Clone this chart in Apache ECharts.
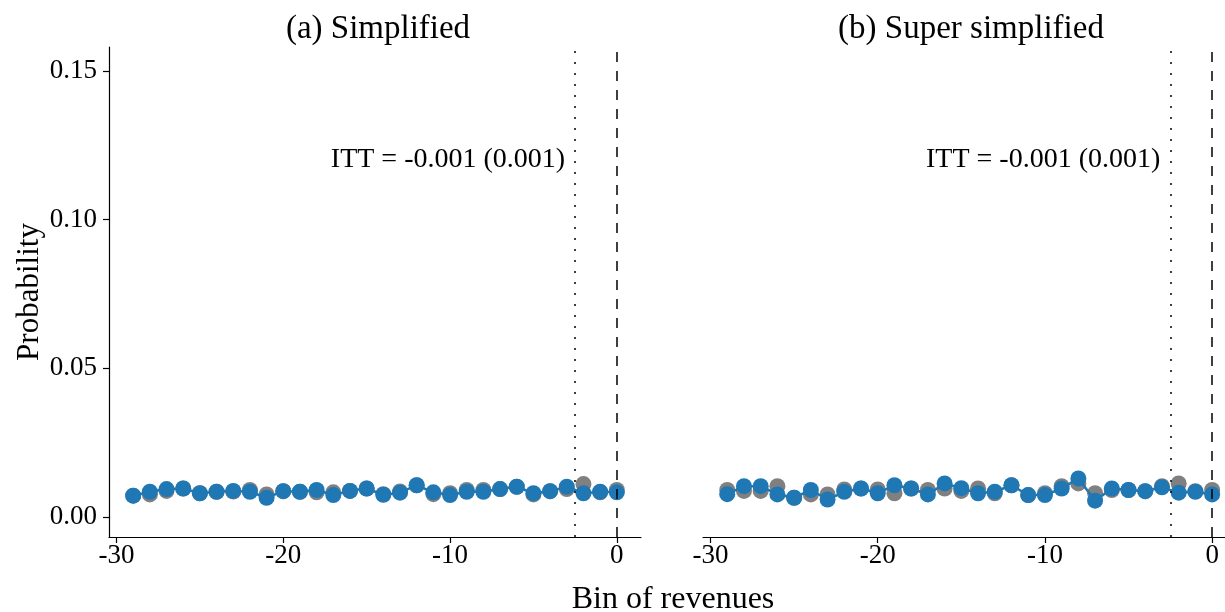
<!DOCTYPE html>
<html>
<head>
<meta charset="utf-8">
<script src="https://cdn.jsdelivr.net/npm/echarts@6/dist/echarts.min.js"></script>
<style>html,body{margin:0;padding:0;background:#fff}#c{width:1225px;height:612px}</style>
</head>
<body>
<div id="c"></div>
<script>
const bins = [-29,-28,-27,-26,-25,-24,-23,-22,-21,-20,-19,-18,-17,-16,-15,-14,-13,-12,-11,-10,-9,-8,-7,-6,-5,-4,-3,-2,-1,0];
// Panel (a) Simplified
const aGray = [0.0072,0.0076,0.0088,0.0096,0.0080,0.0085,0.0086,0.0091,0.0076,0.0087,0.0085,0.0083,0.0083,0.0088,0.0096,0.0077,0.0086,0.0107,0.0077,0.0080,0.0091,0.0091,0.0094,0.0102,0.0076,0.0087,0.0094,0.0111,0.0083,0.0091];
const aBlue = [0.0072,0.0085,0.0094,0.0096,0.0080,0.0085,0.0088,0.0085,0.0065,0.0087,0.0085,0.0091,0.0074,0.0088,0.0096,0.0075,0.0082,0.0107,0.0083,0.0074,0.0085,0.0085,0.0094,0.0102,0.0080,0.0087,0.0102,0.0080,0.0085,0.0083];
// Panel (b) Super simplified
const bGray = [0.0091,0.0088,0.0088,0.0104,0.0065,0.0076,0.0076,0.0093,0.0096,0.0093,0.0080,0.0096,0.0091,0.0096,0.0088,0.0096,0.0080,0.0107,0.0074,0.0080,0.0104,0.0113,0.0080,0.0091,0.0091,0.0087,0.0104,0.0113,0.0087,0.0091];
const bBlue = [0.0077,0.0104,0.0104,0.0076,0.0065,0.0091,0.0059,0.0085,0.0096,0.0080,0.0107,0.0096,0.0076,0.0113,0.0097,0.0080,0.0085,0.0107,0.0074,0.0074,0.0096,0.0130,0.0055,0.0096,0.0091,0.0087,0.0100,0.0082,0.0085,0.0076];
const panelTitles = ['(a) Simplified', '(b) Super simplified'];
const ittText = ['ITT = -0.001 (0.001)', 'ITT = -0.001 (0.001)'];
const xTicks = [-30, -20, -10, 0];
const yTicks = [0, 0.05, 0.10, 0.15];
const cutoffDotted = -2.5;
const cutoffDashed = 0;
const annotY = 0.12;
const xTitle = 'Bin of revenues';
const yTitle = 'Probability';

const FONT = 'Liberation Serif';
const GRAY = '#808080';
const BLUE = '#1F78B4';
const pair = (vals) => bins.map((b, i) => [b, vals[i]]);
const xMax = [1.45, 0.77];

function xAxis(idx) {
  return {
    type: 'value', gridIndex: idx, min: -30.45, max: xMax[idx],
    axisLine: {show: true, onZero: false, lineStyle: {color: '#000', width: 1.2}},
    axisTick: {show: true, length: 6, customValues: xTicks, lineStyle: {color: '#000', width: 1.2}},
    axisLabel: {show: true, customValues: xTicks, margin: 5, fontFamily: FONT, fontSize: 27, color: '#000'},
    splitLine: {show: false}
  };
}
function yAxis(idx, visible) {
  return {
    type: 'value', gridIndex: idx, min: -0.0067, max: 0.158,
    name: visible ? yTitle : '', nameLocation: 'middle', nameGap: 63,
    nameTextStyle: {fontFamily: FONT, fontSize: 31, color: '#000'},
    axisLine: {show: visible, onZero: false, lineStyle: {color: '#000', width: 1.2}},
    axisTick: {show: visible, length: 6, customValues: yTicks, lineStyle: {color: '#000', width: 1.2}},
    axisLabel: {show: visible, customValues: yTicks, margin: 12, fontFamily: FONT, fontSize: 27, color: '#000',
      formatter: v => v.toFixed(2)},
    splitLine: {show: false}
  };
}
function panelSeries(idx, gray, blue) {
  return [
    {
      type: 'scatter', xAxisIndex: idx, yAxisIndex: idx, data: pair(gray),
      symbol: 'circle', symbolSize: 16, itemStyle: {color: GRAY, opacity: 1}, z: 2, silent: true
    },
    {
      type: 'line', xAxisIndex: idx, yAxisIndex: idx, data: pair(blue),
      symbol: 'circle', symbolSize: 16, showSymbol: true,
      lineStyle: {color: BLUE, width: 2.5}, itemStyle: {color: BLUE, borderWidth: 0, opacity: 1}, z: 3, silent: true,
      markLine: {
        silent: true, symbol: 'none', animation: false,
        label: {show: false},
        data: [
          {xAxis: cutoffDotted, lineStyle: {type: [2, 9], color: '#000', width: 1.5}},
          {xAxis: cutoffDashed, lineStyle: {type: [10, 9], color: '#000', width: 1.5}}
        ]
      }
    },
    {
      type: 'scatter', xAxisIndex: idx, yAxisIndex: idx, data: [[cutoffDotted, annotY]],
      symbolSize: 0, silent: true, itemStyle: {opacity: 1},
      label: {show: true, position: 'left', distance: 10, formatter: ittText[idx],
        fontFamily: FONT, fontSize: 28, color: '#000', opacity: 1}
    }
  ];
}

const chart = echarts.init(document.getElementById('c'), null, {renderer: 'canvas'});
chart.setOption({
  animation: false,
  backgroundColor: '#fff',
  title: [
    {text: panelTitles[0], left: 373, top: 8, textAlign: 'center', textStyle: {fontFamily: FONT, fontSize: 33, fontWeight: 'normal', color: '#000'}},
    {text: panelTitles[1], left: 966, top: 8, textAlign: 'center', textStyle: {fontFamily: FONT, fontSize: 33, fontWeight: 'normal', color: '#000'}},
    {text: xTitle, left: 668, top: 579, textAlign: 'center', textStyle: {fontFamily: FONT, fontSize: 32, fontWeight: 'normal', color: '#000'}}
  ],
  grid: [
    {left: 109, top: 47, width: 532, height: 490},
    {left: 703, top: 47, right: 0, height: 490}
  ],
  xAxis: [xAxis(0), xAxis(1)],
  yAxis: [yAxis(0, true), yAxis(1, false)],
  series: [...panelSeries(0, aGray, aBlue), ...panelSeries(1, bGray, bBlue)]
});
</script>
</body>
</html>
